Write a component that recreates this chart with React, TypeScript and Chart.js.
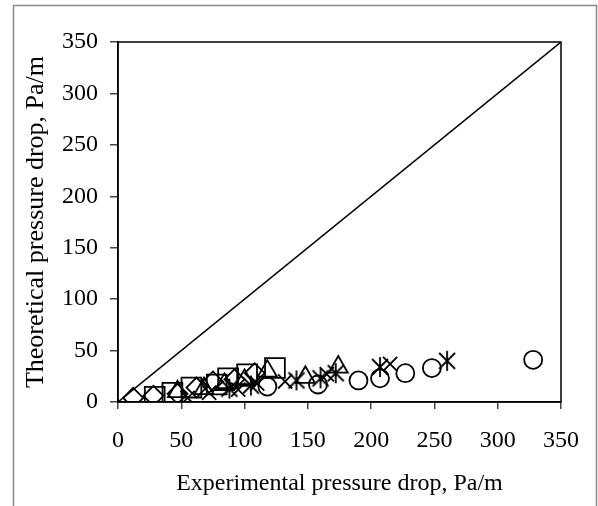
import React, { useEffect, useRef } from "react";
import { Chart, registerables } from "chart.js";

Chart.register(...registerables);

// ---- data (experimental vs theoretical pressure drop, Pa/m) ----
const axisMin = 0;
const axisMax = 350;
const axisStep = 50;

const diamondX = [12, 28, 47, 62, 75, 92, 108];
const diamondY = [4, 6, 8, 14, 20, 22, 28];

const squareX = [29, 43, 58, 78, 87, 102, 124];
const squareY = [5, 9, 14, 17, 23, 27, 33];

const triangleX = [47, 68, 84, 100, 118, 148, 174];
const triangleY = [10, 13, 17, 21, 30, 24, 34];

const crossX = [55, 72, 95, 110, 132, 165, 215];
const crossY = [4, 9, 12, 18, 20, 27, 37];

const starX = [88, 105, 141, 160, 172, 207, 260];
const starY = [13, 16, 21, 23, 28, 34, 40];

const circleX = [118, 158, 190, 207, 227, 248, 328];
const circleY = [15, 17, 21, 23, 28, 33, 41];

const diagonalX = [0, 350];
const diagonalY = [0, 350];

const xTitle = "Experimental pressure drop, Pa/m";
const yTitle = "Theoretical pressure drop, Pa/m";

const FONT = '"Liberation Serif", "Times New Roman", serif';

function pts(xs: number[], ys: number[]) {
  return xs.map((x, i) => ({ x, y: ys[i] }));
}

function makeStar(): HTMLCanvasElement {
  const c = document.createElement("canvas");
  const s = 24;
  c.width = s;
  c.height = s;
  const g = c.getContext("2d")!;
  g.strokeStyle = "#000";
  g.lineWidth = 1.8;
  const m = s / 2;
  const r = 10;
  g.beginPath();
  g.moveTo(m - r * 0.8, m - r * 0.8);
  g.lineTo(m + r * 0.8, m + r * 0.8);
  g.moveTo(m + r * 0.8, m - r * 0.8);
  g.lineTo(m - r * 0.8, m + r * 0.8);
  g.moveTo(m, m - r);
  g.lineTo(m, m + r);
  g.stroke();
  return c;
}

const framePlugin = {
  id: "framePlugin",
  beforeDraw(chart: any) {
    const { ctx } = chart;
    ctx.save();
    ctx.fillStyle = "#fff";
    ctx.fillRect(0, 0, chart.width, chart.height);
    ctx.strokeStyle = "#8a8a8a";
    ctx.lineWidth = 1.5;
    ctx.strokeRect(13.5, 5.5, 583, 520);
    ctx.restore();
  },
  afterDatasetsDraw(chart: any) {
    const { ctx, chartArea } = chart;
    ctx.save();
    ctx.strokeStyle = "#000";
    ctx.lineWidth = 1.5;
    ctx.strokeRect(
      chartArea.left,
      chartArea.top,
      chartArea.right - chartArea.left,
      chartArea.bottom - chartArea.top
    );
    ctx.restore();
  },
};

export default function App() {
  const ref = useRef<HTMLCanvasElement | null>(null);

  useEffect(() => {
    if (!ref.current) return;
    const star = makeStar();
    const common = {
      showLine: false,
      backgroundColor: "rgba(0,0,0,0)",
      borderColor: "#000",
      pointBorderColor: "#000",
      pointBackgroundColor: "rgba(0,0,0,0)",
      pointBorderWidth: 1.8,
    };
    const chart = new Chart(ref.current, {
      type: "scatter",
      data: {
        datasets: [
          {
            ...common,
            label: "line",
            data: pts(diagonalX, diagonalY),
            showLine: true,
            borderWidth: 1.5,
            pointRadius: 0,
          },
          { ...common, label: "diamond", data: pts(diamondX, diamondY), pointStyle: "rectRot", pointRadius: 10 },
          { ...common, label: "square", data: pts(squareX, squareY), pointStyle: "rect", pointRadius: 14 },
          { ...common, label: "triangle", data: pts(triangleX, triangleY), pointStyle: "triangle", pointRadius: 11 },
          { ...common, label: "cross", data: pts(crossX, crossY), pointStyle: "crossRot", pointRadius: 10 },
          { ...common, label: "star", data: pts(starX, starY), pointStyle: star as any, pointRadius: 10 },
          { ...common, label: "circle", data: pts(circleX, circleY), pointStyle: "circle", pointRadius: 9 },
        ] as any,
      },
      options: {
        animation: false,
        responsive: false,
        devicePixelRatio: 1,
        layout: { padding: { top: 42, right: 37, left: 0, bottom: 0 } },
        plugins: {
          legend: { display: false },
          tooltip: { enabled: false },
        },
        scales: {
          x: {
            type: "linear",
            min: axisMin,
            max: axisMax,
            border: { display: true, color: "#000", width: 1.5 },
            grid: {
              drawOnChartArea: false,
              drawTicks: true,
              tickLength: 7,
              color: "#444",
              lineWidth: 1.5,
            },
            ticks: {
              stepSize: axisStep,
              color: "#000",
              padding: 17,
              font: { family: FONT, size: 24 },
              maxRotation: 0,
            },
            title: {
              display: true,
              text: xTitle,
              color: "#000",
              font: { family: FONT, size: 24 },
              padding: { top: 0, bottom: 8 },
            },
            afterFit(scale: any) {
              scale.height = 104;
            },
          },
          y: {
            type: "linear",
            min: axisMin,
            max: axisMax,
            border: { display: true, color: "#000", width: 1.5 },
            grid: {
              drawOnChartArea: false,
              drawTicks: true,
              tickLength: 8,
              color: "#444",
              lineWidth: 1.5,
            },
            ticks: {
              stepSize: axisStep,
              color: "#000",
              padding: 12,
              font: { family: FONT, size: 24 },
            },
            title: {
              display: true,
              text: yTitle,
              color: "#000",
              font: { family: FONT, size: 26 },
              padding: { top: 21, bottom: 0 },
            },
            afterFit(scale: any) {
              scale.width = 118;
            },
          },
        },
      } as any,
      plugins: [framePlugin],
    });
    return () => chart.destroy();
  }, []);

  return (
    <div style={{ position: "absolute", left: 0, top: 0, width: 598, height: 506 }}>
      <canvas ref={ref} width={598} height={506} />
    </div>
  );
}
